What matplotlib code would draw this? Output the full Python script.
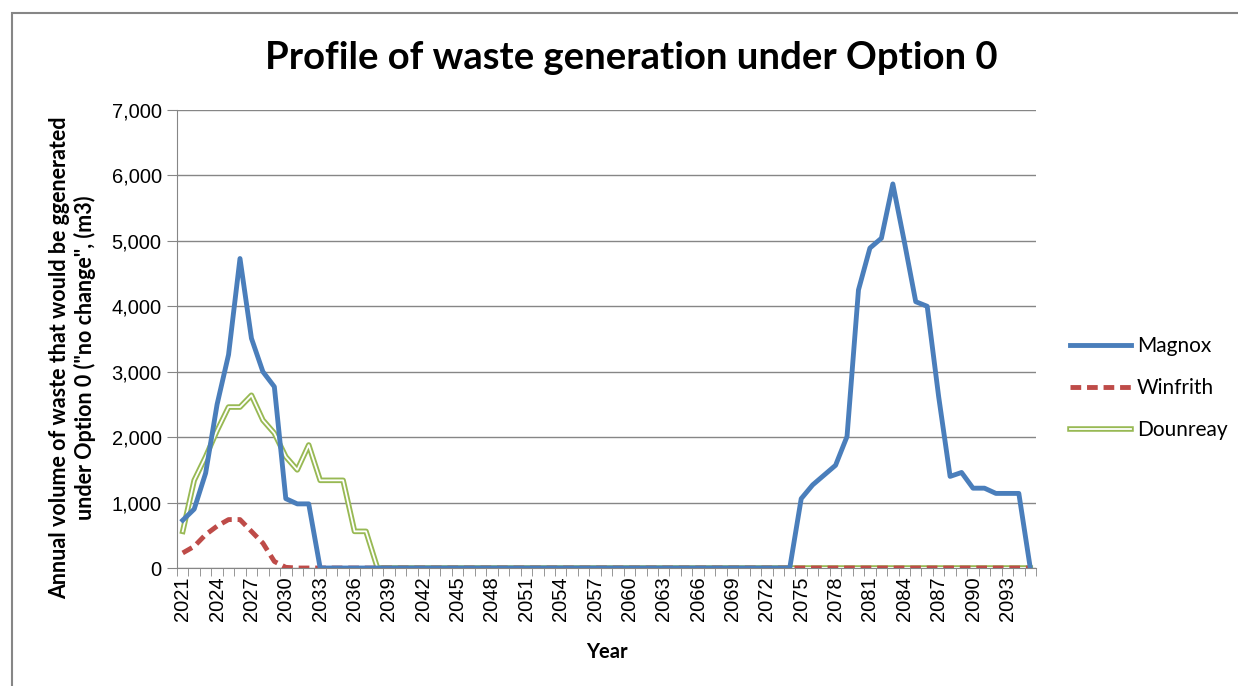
import matplotlib
matplotlib.use("Agg")
import matplotlib.pyplot as plt
from matplotlib.legend_handler import HandlerTuple
import numpy as np

years = list(range(2021, 2096))

# non-zero stretches, everything else is 0
magnox_early = [730, 900, 1450, 2500, 3260, 4730, 3510, 3000, 2770, 1060, 980, 980]   # 2021-2032
magnox_late = [1060, 1270, 1420, 1570, 2010, 4250, 4890, 5040, 5870, 4990,
               4070, 4000, 2620, 1400, 1460, 1220, 1220, 1140, 1140, 1140]            # 2075-2094
winfrith_early = [230, 330, 510, 640, 740, 740, 560, 380, 100, 10]                    # 2021-2030
dounreay_early = [560, 1340, 1700, 2100, 2460, 2460, 2640, 2260, 2060, 1700,
                  1500, 1880, 1340, 1340, 1340, 560, 560]                              # 2021-2037

magnox = [0] * len(years)
magnox[0:len(magnox_early)] = magnox_early
magnox[2075 - 2021:2075 - 2021 + len(magnox_late)] = magnox_late
winfrith = [0] * len(years)
winfrith[0:len(winfrith_early)] = winfrith_early
dounreay = [0] * len(years)
dounreay[0:len(dounreay_early)] = dounreay_early

grid_col = "#868686"

fig = plt.figure(figsize=(12.38, 6.86), dpi=100)
ax = fig.add_axes([177 / 1238, 1 - 568 / 686, (1036 - 177) / 1238, (568 - 110) / 686])

x = np.arange(len(years))
d_out, = ax.plot(x, dounreay, color="#98B954", lw=4.0, zorder=2)
d_in, = ax.plot(x, dounreay, color="white", lw=1.3, zorder=2.1)
w_line, = ax.plot(x, winfrith, color="#BE4B48", lw=3.5, ls=(0, (2.2, 1.2)), zorder=3)
m_line, = ax.plot(x, magnox, color="#4A7EBB", lw=3.5, zorder=4)

ax.set_xlim(-0.5, len(years) - 0.5)
ax.set_ylim(0, 7000)
ax.set_yticks(range(0, 7001, 1000))
ax.set_yticklabels([f"{v:,}" for v in range(0, 7001, 1000)], fontsize=14.5,
                   family="Liberation Sans")
ax.set_xticks(x[::3])
ax.set_xticklabels([str(y) for y in years[::3]], rotation=90, fontsize=14.5,
                   family="Liberation Sans")
ax.set_xticks(np.arange(len(years) + 1) - 0.5, minor=True)
ax.tick_params(axis="x", which="major", length=0, pad=6)
ax.tick_params(axis="x", which="minor", length=6, color=grid_col)
ax.tick_params(axis="y", length=7, color=grid_col, pad=4)
ax.yaxis.grid(True, color=grid_col, lw=1)
ax.set_axisbelow(True)
for s in ["top", "right"]:
    ax.spines[s].set_visible(False)
for s in ["left", "bottom"]:
    ax.spines[s].set_color(grid_col)

ax.set_xlabel("Year", fontsize=14.5, fontweight="bold", family="Lato", labelpad=15)
ax.set_ylabel("Annual volume of waste that would be ggenerated\nunder Option 0 (\"no change\", (m3)",
              fontsize=15.5, fontweight="bold", family="Lato", linespacing=1.2)
ax.yaxis.set_label_coords(-0.094, 0.46)

fig.text(631 / 1238, 1 - 58 / 686, "Profile of waste generation under Option 0",
         ha="center", va="center", fontsize=27.5, fontweight="bold", family="Lato")

fig.legend([m_line, w_line, (d_out, d_in)], ["Magnox", "Winfrith", "Dounreay"],
           handler_map={tuple: HandlerTuple(ndivide=1, pad=0)},
           loc="center left", bbox_to_anchor=(1070 / 1238, 1 - 388 / 686),
           frameon=False, prop={"family": "Lato", "size": 15},
           handlelength=2.95, handletextpad=0.25, labelspacing=1.05, borderaxespad=0,
           borderpad=0)

# border of chart area
fig.patches.append(plt.Rectangle((12 / 1238, -0.05), 1.1, 1 - 13 / 686 + 0.05,
                                 transform=fig.transFigure, fill=False,
                                 edgecolor=grid_col, lw=1.5))

fig.savefig("out.png", dpi=100)
